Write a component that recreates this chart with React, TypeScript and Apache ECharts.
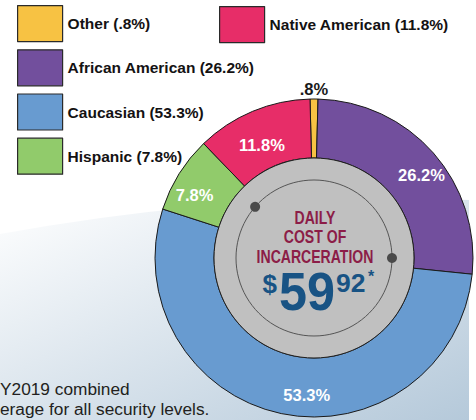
import React, { useEffect, useRef } from "react";
import * as echarts from "echarts";

const CATEGORIES = ["Other", "African American", "Caucasian", "Hispanic", "Native American"];
const VALUES = [0.8, 26.2, 53.3, 7.8, 11.8];
const COLORS = ["#f7c243", "#724f9d", "#689bd0", "#91cb6b", "#e72d68"];
const LEGEND_LEFT = ["Other", "African American", "Caucasian", "Hispanic"];
const LEGEND_RIGHT = ["Native American"];
const LABEL_DX = [0, 8, 20, -7, -1];
const LABEL_DY = [-37, 5, 7, 7, 9];
const CENTER_LINES = ["DAILY", "COST OF", "INCARCERATION"];
const FOOTNOTE = ["Y2019 combined", "erage for all security levels."];

const fmt = (v: number) => (v < 1 ? String(v).replace(/^0/, "") : String(v));

const PANEL_D = "M0 234 Q 240 190 469 200 L 469 420 L 0 420 Z";
let registered = false;

export default function App() {
  const ref = useRef<HTMLDivElement>(null);
  useEffect(() => {
    document.body.style.margin = "0";
    if (!registered) {
      echarts.graphic.registerShape("panelShape", echarts.graphic.extendPath(PANEL_D, {}));
      registered = true;
    }
    const chart = echarts.init(ref.current!, null, { renderer: "svg" });
    const cx = 314, cy = 258;
    const font = "'Liberation Sans', Arial, sans-serif";
    const legendBase = {
      orient: "vertical",
      padding: 0,
      itemWidth: 45,
      itemHeight: 36,
      itemGap: 7,
      icon: "rect",
      selectedMode: false,
      itemStyle: { borderColor: "#2a2a2a", borderWidth: 1.2 },
      textStyle: { fontFamily: font, fontWeight: "bold", fontSize: 15.5, color: "#141213" },
      formatter: (name: string) => `${name} (${fmt(VALUES[CATEGORIES.indexOf(name)])}%)`,
    };
    const dot = (deg: number) => ({
      type: "circle",
      z: 12,
      shape: { cx: cx + 78 * Math.cos((deg * Math.PI) / 180), cy: cy - 78 * Math.sin((deg * Math.PI) / 180), r: 5 },
      style: { fill: "#4a4a4a" },
    });
    chart.setOption({
      animation: false,
      legend: [
        { ...legendBase, left: 17, top: 5, data: LEGEND_LEFT },
        { ...legendBase, left: 219, top: 6, data: LEGEND_RIGHT },
      ],
      graphic: [
        {
          type: "panelShape",
          x: 0,
          y: 0,
          z: -10,
          style: {
            fill: {
              type: "linear", x: 0, y: 0, x2: 1, y2: 1,
              colorStops: [
                { offset: 0, color: "#ffffff" },
                { offset: 1, color: "#b5c9da" },
              ],
            },
          },
        },
        {
          type: "text", z: 1, x: 0, y: 398.75,
          style: {
            text: FOOTNOTE.join("\n"),
            textAlign: "left",
            textVerticalAlign: "middle",
            font: `17.3px ${font}`,
            lineHeight: 20.5,
            fill: "#231f20",
          },
        },
        {
          type: "circle", z: 10,
          shape: { cx, cy, r: 100 },
          style: { fill: "#c0c0c0", stroke: "#1e1e1e", lineWidth: 1 },
        },
        {
          type: "circle", z: 11,
          shape: { cx, cy, r: 78 },
          style: { fill: "none", stroke: "#555555", lineWidth: 1 },
        },
        dot(139),
        dot(0),
        ...CENTER_LINES.map((t, i) => ({
          type: "text", z: 13, x: cx + 1, y: 217 + i * 19.5, scaleX: 0.76, originX: 0,
          style: { text: t, textAlign: "center", textVerticalAlign: "middle", font: `bold 18.5px ${font}`, fill: "#8c1d47" },
        })),
        {
          type: "text", z: 13, x: 277, y: 297,
          style: { text: "$", textAlign: "right", textVerticalAlign: "bottom", font: `bold 26px ${font}`, fill: "#185384" },
        },
        {
          type: "text", z: 13, x: 279, y: 318, scaleX: 0.95, originX: 0,
          style: { text: "59", textAlign: "left", textVerticalAlign: "bottom", font: `bold 53px ${font}`, fill: "#185384" },
        },
        {
          type: "text", z: 13, x: 336, y: 296,
          style: { text: "92", textAlign: "left", textVerticalAlign: "bottom", font: `bold 26.5px ${font}`, fill: "#185384" },
        },
        {
          type: "text", z: 13, x: 368, y: 284,
          style: { text: "*", textAlign: "left", textVerticalAlign: "bottom", font: `bold 16px ${font}`, fill: "#185384" },
        },
      ],
      series: [
        {
          type: "pie",
          center: [cx, cy],
          radius: [100, 159],
          startAngle: 90 + (VALUES[0] * 3.6) / 2,
          clockwise: true,
          avoidLabelOverlap: false,
          silent: true,
          emphasis: { disabled: true },
          itemStyle: { borderColor: "#1a1a1a", borderWidth: 1 },
          label: {
            show: true,
            position: "inside",
            formatter: (p: any) => `${fmt(p.value)}%`,
            color: "#ffffff",
            fontFamily: font,
            fontWeight: "bold",
            fontSize: 16.5,
          },
          labelLine: { show: false },
          labelLayout: (p: any) => ({ dx: LABEL_DX[p.dataIndex], dy: LABEL_DY[p.dataIndex] }),
          data: CATEGORIES.map((name, i) => ({
            name,
            value: VALUES[i],
            itemStyle: { color: COLORS[i] },
            label: i === 0 ? { color: "#1a1a1a" } : undefined,
          })),
        },
      ],
    });
    return () => chart.dispose();
  }, []);
  return <div ref={ref} style={{ width: 476, height: 420 }} />;
}
